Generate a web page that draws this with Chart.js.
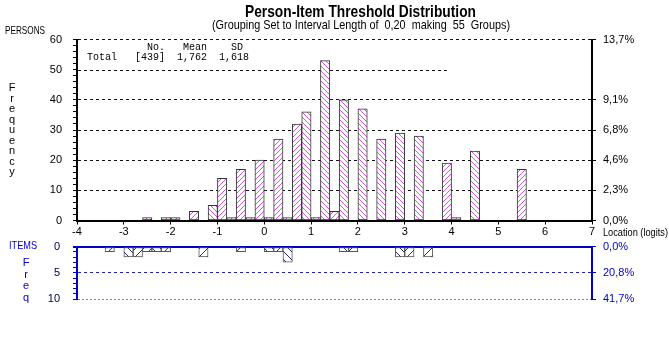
<!DOCTYPE html>
<html>
<head>
<meta charset="utf-8">
<script src="https://cdn.jsdelivr.net/npm/chart.js@4/dist/chart.umd.min.js"></script>
<style>
  html, body { margin: 0; padding: 0; background: #fff; }
  #wrap { position: relative; width: 669px; height: 337px; overflow: hidden; font-family: "Liberation Sans", Arial, sans-serif; }
  canvas { position: absolute; left: 0; }
  .t { position: absolute; white-space: pre; line-height: 1; transform-origin: 0 0; }
</style>
</head>
<body>
<div id="wrap">
  <canvas id="persons" width="669" height="250" style="top:0"></canvas>
  <canvas id="items" width="669" height="110" style="top:216px"></canvas>

  <div class="t fit" data-w="231" style="left:245px; top:3px; font-weight:bold; font-size:17px;">Person-Item Threshold Distribution</div>
  <div class="t fit" data-w="298" style="left:212px; top:18px; font-size:13px;">(Grouping Set to Interval Length of  0,20  making  55  Groups)</div>
  <div class="t fit" data-w="40" style="left:5px; top:25px; font-size:11px;">PERSONS</div>
  <div class="t" style="left:8px; top:82px; font-size:11px; line-height:10.5px; text-align:center; width:8px;">F<br>r<br>e<br>q<br>u<br>e<br>n<br>c<br>y</div>
  <div class="t" style="left:87px; top:43px; font-family:'Liberation Mono', monospace; font-size:10px;">          No.   Mean    SD
Total   [439]  1,762  1,618</div>
  <div class="t fit" data-w="65" style="left:603px; top:227px; font-size:11px;">Location (logits)</div>
  <div class="t fit" data-w="28" style="left:9px; top:240px; font-size:11px; color:#0000c8;">ITEMS</div>
  <div class="t" style="left:22px; top:257px; font-size:11px; line-height:11.5px; text-align:center; width:8px; color:#0000c8;">F<br>r<br>e<br>q</div>
</div>
<script>
// person-item threshold distribution, 55 groups of 0,20 logits
const xMin = -4, xMax = 7;

// persons: bin centre (logits) and number of persons
const personLoc   = [-2.5, -2.1, -1.9, -1.5, -1.1, -0.9, -0.7, -0.5, -0.3, -0.1, 0.1, 0.3, 0.5, 0.7, 0.9, 1.1, 1.3, 1.5, 1.7, 2.1, 2.5, 2.9, 3.3, 3.9, 4.1, 4.5, 5.5];
const personCount = [1, 1, 1, 3, 5, 14, 1, 17, 1, 20, 1, 27, 1, 32, 36, 1, 53, 3, 40, 37, 27, 29, 28, 19, 1, 23, 17];
const personTotal = 439;

// items (thresholds): bin centre and frequency
const itemLoc   = [-3.3, -2.9, -2.7, -2.5, -2.3, -2.1, -1.3, -0.5, 0.1, 0.3, 0.5, 1.7, 1.9, 2.9, 3.1, 3.5];
const itemCount = [1, 2, 2, 1, 1, 1, 2, 1, 1, 1, 3, 1, 1, 2, 2, 2];
const itemTotal = 24;

const personTicks = [0, 10, 20, 30, 40, 60];   // % labels on the right
const itemTicks = [0, 5, 10];

// hatch direction of each bar (style only)
const personHatch = ['/', '/', '/', '/', '\\', '/', '/', '/', '/', '/', '/', '/', '/', '/', '\\', '\\', '\\', '/', '\\', '\\', '\\', '\\', '\\', '/', '/', '\\', '/'];
const itemHatch = ['/', '\\', '/', '/', '\\', '/', '/', '/', '\\', '/', '\\', '\\', '/', '\\', '/', '/'];

const BLUE = '#0000c8';

// squeeze the narrow-font labels to the width they have in the picture
document.querySelectorAll('.fit').forEach(el => {
    const w = el.getBoundingClientRect().width;
    el.style.transform = 'scaleX(' + (el.dataset.w / w) + ')';
});

// diagonal hatch tile, '\' is the mirror of '/'
function makeHatch(target, color, dir, size, lw) {
    const c = document.createElement('canvas');
    c.width = c.height = size;
    const g = c.getContext('2d');
    g.fillStyle = '#ffffff';
    g.fillRect(0, 0, size, size);
    if (dir !== '/') { g.translate(size, 0); g.scale(-1, 1); }
    g.strokeStyle = color;
    g.lineWidth = lw;
    g.beginPath();
    for (const k of [-size, 0, size]) {
        g.moveTo(k - 1, size + 1);
        g.lineTo(k + size + 1, -1);
    }
    g.stroke();
    return target.getContext('2d').createPattern(c, 'repeat');
}

function pct(v, total) {
    return (v / total * 100).toFixed(1).replace('.', ',') + '%';
}

// the 50 line is only drawn part way in the original
const partialLine = {
    id: 'partialLine',
    beforeDatasetsDraw(chart) {
        const {ctx, scales: {x, y}} = chart;
        const yy = Math.round(y.getPixelForValue(50)) + 0.5;
        ctx.save();
        ctx.setLineDash([3, 3]);
        ctx.strokeStyle = '#111';
        ctx.lineWidth = 1;
        ctx.beginPath();
        ctx.moveTo(x.left + 1, yy);
        ctx.lineTo(x.getPixelForValue(3.9), yy);
        ctx.stroke();
        ctx.restore();
    }
};

Chart.defaults.font.family = '"Liberation Sans", Arial, sans-serif';
Chart.defaults.font.size = 11;
Chart.defaults.color = '#000';
Chart.defaults.animation = false;

const cvP = document.getElementById('persons');
const cvI = document.getElementById('items');
const pink = {'/': makeHatch(cvP, '#cc44d4', '/', 5, 0.9), '\\': makeHatch(cvP, '#cc44d4', '\\', 5, 0.9)};
const navy = {'/': makeHatch(cvI, '#2a2a78', '/', 8, 1), '\\': makeHatch(cvI, '#2a2a78', '\\', 8, 1)};

new Chart(cvP, {
    type: 'bar',
    data: {
        datasets: [{
            data: personLoc.map((x, i) => ({x: x, y: personCount[i]})),
            backgroundColor: personHatch.map(d => pink[d]),
            borderColor: '#333',
            borderWidth: 1,
            borderSkipped: false,
            categoryPercentage: 1,
            barPercentage: 1
        }]
    },
    options: {
        responsive: false,
        layout: {padding: {top: 39.5}},
        plugins: {legend: {display: false}, tooltip: {enabled: false}},
        scales: {
            x: {
                type: 'linear', min: xMin, max: xMax, offset: false,
                ticks: {stepSize: 1, padding: 1, autoSkip: false},
                grid: {drawOnChartArea: false, offset: false, tickLength: 4, color: '#000'},
                border: {color: '#000', width: 2},
                afterFit: s => { s.height = 29.5; }
            },
            y: {
                position: 'left', min: 0, max: 60,
                ticks: {stepSize: 2, padding: 11, autoSkip: false, callback: v => v % 10 === 0 ? v : ''},
                grid: {
                    color: c => (c.tick && c.tick.value % 10 === 0 && c.tick.value !== 50 && c.tick.value !== 0) ? '#111' : 'rgba(0,0,0,0)',
                    tickColor: '#000', tickLength: 4
                },
                border: {color: '#000', width: 2, dash: [3, 3]},
                afterFit: s => { s.width = 77; }
            },
            yr: {
                position: 'right', min: 0, max: 60,
                afterBuildTicks: s => { s.ticks = personTicks.map(v => ({value: v})); },
                ticks: {padding: 7, autoSkip: false, callback: v => pct(v, personTotal)},
                grid: {drawOnChartArea: false, tickLength: 4, color: '#000'},
                border: {color: '#000', width: 2},
                afterFit: s => { s.width = 77; }
            }
        }
    },
    plugins: [partialLine]
});

new Chart(cvI, {
    type: 'bar',
    data: {
        datasets: [{
            data: itemLoc.map((x, i) => ({x: x, y: itemCount[i]})),
            backgroundColor: itemHatch.map(d => navy[d]),
            borderColor: '#555',
            borderWidth: 1,
            borderSkipped: false,
            categoryPercentage: 1,
            barPercentage: 1
        }]
    },
    options: {
        responsive: false,
        layout: {padding: {top: 30.5, bottom: 27}},
        plugins: {legend: {display: false}, tooltip: {enabled: false}},
        scales: {
            x: {type: 'linear', min: xMin, max: xMax, offset: false, display: false, ticks: {stepSize: 1}},
            y: {
                position: 'left', min: 0, max: 10, reverse: true,
                ticks: {stepSize: 1, padding: 13, autoSkip: false, color: '#00004a', callback: v => itemTicks.includes(v) ? v : ''},
                grid: {
                    color: c => !c.tick ? 'rgba(0,0,0,0)' : c.tick.value === 0 ? BLUE : c.tick.value === 5 ? '#2020b0' : c.tick.value === 10 ? '#8080d8' : 'rgba(0,0,0,0)',
                    lineWidth: c => (c.tick && c.tick.value === 0) ? 2 : 1,
                    tickColor: BLUE, tickLength: 4
                },
                border: {color: BLUE, width: 2, dash: c => (c.tick && c.tick.value === 0) ? [] : (c.tick && c.tick.value === 10 ? [2, 2] : [3, 3])},
                afterFit: s => { s.width = 77; }
            },
            yr: {
                position: 'right', min: 0, max: 10, reverse: true,
                afterBuildTicks: s => { s.ticks = itemTicks.map(v => ({value: v})); },
                ticks: {padding: 7, autoSkip: false, color: BLUE, callback: v => pct(v, itemTotal)},
                grid: {drawOnChartArea: false, tickLength: 4, color: BLUE},
                border: {color: BLUE, width: 2},
                afterFit: s => { s.width = 77; }
            }
        }
    }
});
</script>
</body>
</html>
